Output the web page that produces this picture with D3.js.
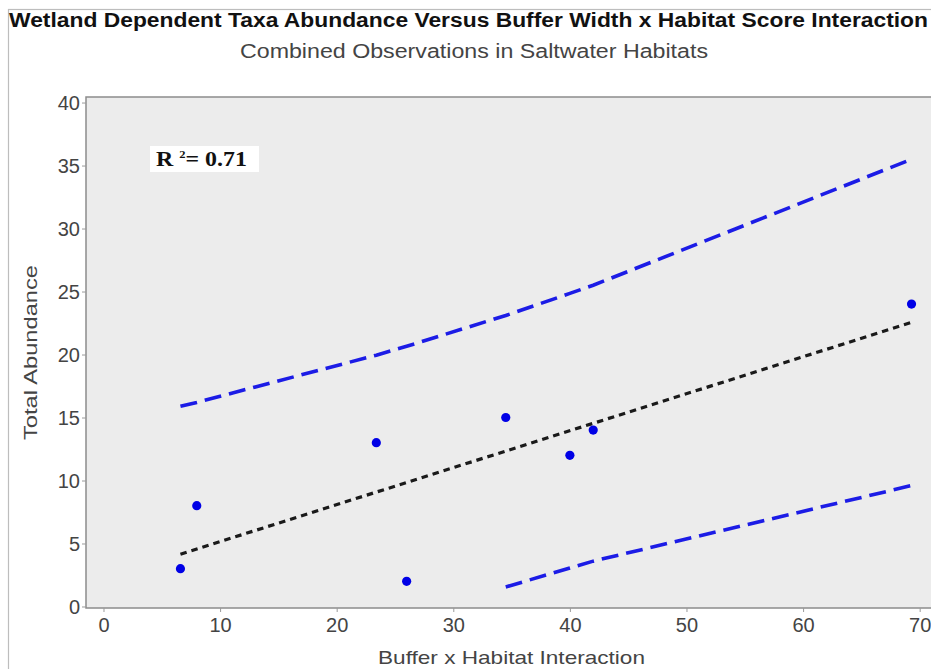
<!DOCTYPE html>
<html>
<head>
<meta charset="utf-8">
<script src="https://cdn.jsdelivr.net/npm/d3@7/dist/d3.min.js"></script>
<style>
  html, body { margin: 0; padding: 0; background: #ffffff; }
  svg { display: block; }
  text { font-family: "Liberation Sans", Arial, sans-serif; }
</style>
</head>
<body>
<svg id="chart" width="931" height="669"></svg>
<script>
// Observed sites: buffer x habitat interaction vs total abundance
const interaction = [6.6, 8, 23.4, 26, 34.5, 40, 42, 69.3];
const abundance   = [3, 8, 13, 2, 15, 12, 14, 24];

// Fitted regression line (end points)
const fitX = [6.6, 69.3];
const fitY = [4.15, 22.55];

// 95% prediction band, evaluated at the observed interaction values
const upperX = [6.6, 8, 23.4, 26, 34.5, 40, 42, 69.3];
const upperY = [15.9, 16.2, 19.95, 20.65, 23.1, 24.85, 25.5, 35.5];
const lowerX = [34.5, 40, 42, 69.3];
const lowerY = [1.55, 3.05, 3.6, 9.6];

const xTicks = [0, 10, 20, 30, 40, 50, 60, 70];
const yTicks = [0, 5, 10, 15, 20, 25, 30, 35, 40];

const rSquared = "0.71";

const svg = d3.select("#chart");

// Outer frame
svg.append("rect")
  .attr("x", 8.5).attr("y", 9.5)
  .attr("width", 940).attr("height", 680)
  .attr("fill", "none").attr("stroke", "#bdbdbd").attr("stroke-width", 1.2);

const plot = { left: 86, top: 97, right: 936, bottom: 608 };

const x = d3.scaleLinear().domain([-1.5, 71.4]).range([plot.left, plot.right]);
const y = d3.scaleLinear().domain([-0.12, 40.44]).range([plot.bottom, plot.top]);

// Plot panel
svg.append("rect")
  .attr("x", plot.left).attr("y", plot.top)
  .attr("width", plot.right - plot.left).attr("height", plot.bottom - plot.top)
  .attr("fill", "#ececec").attr("stroke", "#8c8c8c").attr("stroke-width", 1.5);

// Axes
const xAxis = svg.append("g")
  .attr("transform", `translate(0,${plot.bottom})`)
  .call(d3.axisBottom(x).tickValues(xTicks).tickSize(4).tickPadding(6).tickFormat(d3.format("d")));
const yAxis = svg.append("g")
  .attr("transform", `translate(${plot.left},0)`)
  .call(d3.axisLeft(y).tickValues(yTicks).tickSize(4).tickPadding(2).tickFormat(d3.format("d")));

[xAxis, yAxis].forEach(g => {
  g.select(".domain").remove();
  g.selectAll(".tick line").attr("stroke", "#9a9a9a").attr("stroke-width", 1);
  g.selectAll(".tick text")
    .attr("fill", "#444")
    .style("font-size", "20px")
    .style("font-family", "'Liberation Sans', Arial, sans-serif");
});
yAxis.selectAll(".tick text").attr("dy", "0.35em");

svg.append("clipPath").attr("id", "panel")
  .append("rect")
  .attr("x", plot.left).attr("y", plot.top)
  .attr("width", plot.right - plot.left).attr("height", plot.bottom - plot.top);

const layer = svg.append("g").attr("clip-path", "url(#panel)");

const line = d3.line().x(d => x(d[0])).y(d => y(d[1]));

// Prediction bands
layer.append("path")
  .datum(d3.zip(upperX, upperY))
  .attr("d", line)
  .attr("fill", "none").attr("stroke", "#1c1ce6")
  .attr("stroke-width", 3.6).attr("stroke-dasharray", "17,8");
layer.append("path")
  .datum(d3.zip(lowerX, lowerY))
  .attr("d", line)
  .attr("fill", "none").attr("stroke", "#1c1ce6")
  .attr("stroke-width", 3.6).attr("stroke-dasharray", "17,8");

// Regression line
layer.append("path")
  .datum(d3.zip(fitX, fitY))
  .attr("d", line)
  .attr("fill", "none").attr("stroke", "#1a1a1a")
  .attr("stroke-width", 3.2).attr("stroke-dasharray", "6.5,5");

// Observations
layer.selectAll("circle.obs")
  .data(d3.zip(interaction, abundance))
  .join("circle")
  .attr("class", "obs")
  .attr("cx", d => x(d[0])).attr("cy", d => y(d[1]))
  .attr("r", 4.6).attr("fill", "#0000e6");

// R-squared label
svg.append("rect")
  .attr("x", 150).attr("y", 146)
  .attr("width", 109).attr("height", 26)
  .attr("fill", "#ffffff");
const r2 = svg.append("text")
  .attr("x", 156).attr("y", 166)
  .attr("textLength", 91).attr("lengthAdjust", "spacingAndGlyphs")
  .style("font-family", "'Liberation Serif', 'Times New Roman', serif")
  .style("font-weight", "bold").style("font-size", "21px")
  .attr("fill", "#111");
r2.append("tspan").text("R ");
r2.append("tspan").attr("dy", -8).style("font-size", "11px").text("2");
r2.append("tspan").attr("dy", 8).text("= " + rSquared);

// Titles
svg.append("text")
  .attr("x", 9).attr("y", 27)
  .attr("textLength", 919).attr("lengthAdjust", "spacingAndGlyphs")
  .style("font-size", "20px").style("font-weight", "bold")
  .attr("fill", "#111")
  .text("Wetland Dependent Taxa Abundance Versus Buffer Width x Habitat Score Interaction");

svg.append("text")
  .attr("x", 240).attr("y", 58)
  .attr("textLength", 468).attr("lengthAdjust", "spacingAndGlyphs")
  .style("font-size", "20px")
  .attr("fill", "#444")
  .text("Combined Observations in Saltwater Habitats");

svg.append("text")
  .attr("x", 378).attr("y", 664)
  .attr("textLength", 267).attr("lengthAdjust", "spacingAndGlyphs")
  .style("font-size", "19px")
  .attr("fill", "#444")
  .text("Buffer x Habitat Interaction");

svg.append("text")
  .attr("transform", "translate(37,440) rotate(-90)")
  .attr("textLength", 175).attr("lengthAdjust", "spacingAndGlyphs")
  .style("font-size", "19px")
  .attr("fill", "#444")
  .text("Total Abundance");
</script>
</body>
</html>
